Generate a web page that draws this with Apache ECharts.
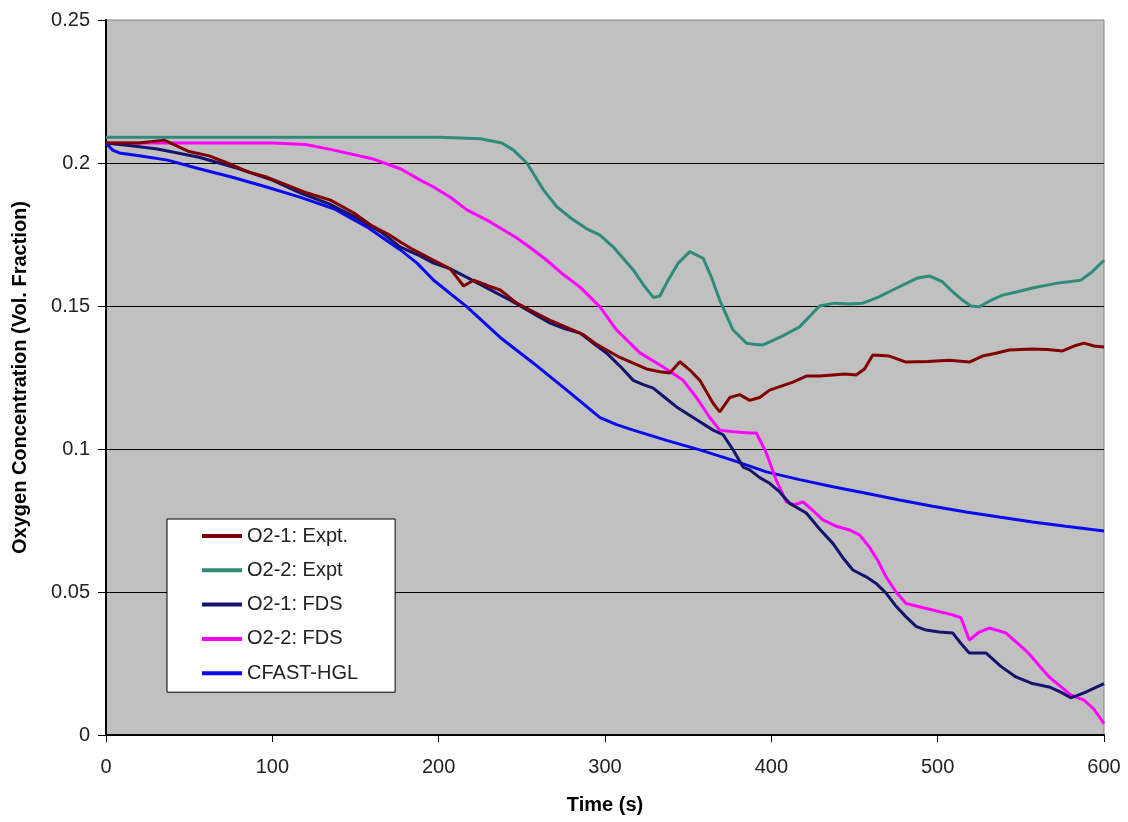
<!DOCTYPE html>
<html>
<head>
<meta charset="utf-8">
<script src="https://cdn.jsdelivr.net/npm/echarts@6/dist/echarts.min.js"></script>
<style>
html,body{margin:0;padding:0;background:#fff;}
#chart{width:1128px;height:822px;}
</style>
</head>
<body>
<div id="chart"></div>
<script>
// ---- Data ----
const seriesNames = ["O2-1: Expt.", "O2-2: Expt", "O2-1: FDS", "O2-2: FDS", "CFAST-HGL"];

const o21ExptT = [0,20,35,50,62,73,85,97,110,121,135,149,160,170,177,185,197,207,215,221,230,237,247,257,267,277,287,294,301,309,317,325,333,339,345,351,357,365,369,375,381,387,393,399,406,413,421,429,437,444,451,456,461,471,481,494,507,519,527,535,543,557,566,575,582,588,594,600];
const o21ExptV = [0.207,0.207,0.208,0.204,0.2025,0.200,0.197,0.195,0.192,0.1895,0.187,0.1825,0.178,0.175,0.1724,0.1696,0.166,0.163,0.157,0.159,0.157,0.1556,0.151,0.148,0.145,0.1425,0.140,0.137,0.1346,0.132,0.130,0.128,0.127,0.1266,0.1305,0.1276,0.124,0.116,0.113,0.118,0.119,0.117,0.118,0.1206,0.122,0.1234,0.1255,0.1255,0.1259,0.1262,0.1259,0.128,0.1329,0.1325,0.1304,0.1306,0.131,0.1304,0.1325,0.1335,0.1346,0.135,0.1348,0.1343,0.136,0.137,0.136,0.1357];

const o22ExptT = [0,200,225,238,245,253,263,271,280,289,297,305,317,323,329,333,337,344,351,359,364,369,377,385,391,395,405,417,429,438,447,455,464,473,488,495,503,509,515,520,525,532,539,548,557,572,586,593,600];
const o22ExptV = [0.209,0.209,0.2085,0.207,0.2045,0.200,0.1906,0.1847,0.1805,0.177,0.1748,0.1706,0.1626,0.1575,0.153,0.1535,0.158,0.165,0.169,0.1667,0.160,0.152,0.1416,0.137,0.1365,0.1364,0.139,0.1427,0.150,0.151,0.1507,0.151,0.153,0.1556,0.1598,0.1605,0.1584,0.155,0.152,0.150,0.1497,0.152,0.1538,0.155,0.1563,0.158,0.159,0.162,0.166];

const o21FdsT = [0,15,30,56,80,100,117,135,150,165,177,187,197,207,217,230,243,255,267,276,285,293,301,309,317,323,329,336,343,353,365,371,377,383,387,393,399,405,411,421,429,437,443,449,457,463,469,475,481,487,493,501,509,514,519,529,538,547,557,567,574,580,588,600];
const o21FdsV = [0.207,0.206,0.205,0.202,0.198,0.194,0.1895,0.1855,0.181,0.176,0.1706,0.168,0.165,0.163,0.160,0.156,0.152,0.148,0.144,0.142,0.1405,0.137,0.1335,0.129,0.124,0.1225,0.1213,0.118,0.1147,0.111,0.1066,0.105,0.0997,0.0937,0.0927,0.090,0.088,0.085,0.081,0.0776,0.072,0.067,0.062,0.0577,0.0553,0.053,0.0496,0.045,0.0413,0.038,0.0367,0.036,0.0357,0.032,0.0287,0.0287,0.024,0.0203,0.018,0.0168,0.015,0.013,0.0147,0.018];

const o22FdsT = [0,60,100,120,137,160,177,189,197,207,217,231,247,256,265,275,285,297,307,321,335,347,355,363,369,377,387,391,397,403,409,414,419,425,431,439,447,453,459,464,469,475,481,497,509,514,519,525,531,541,554,567,580,588,594,600];
const o22FdsV = [0.207,0.207,0.207,0.2065,0.2045,0.2015,0.198,0.194,0.1916,0.188,0.1836,0.1794,0.1738,0.170,0.166,0.161,0.1566,0.1497,0.1416,0.1336,0.1287,0.124,0.118,0.111,0.1066,0.106,0.1056,0.1056,0.0986,0.089,0.0815,0.0805,0.0815,0.0785,0.0752,0.073,0.0717,0.070,0.0657,0.061,0.0553,0.050,0.046,0.0437,0.042,0.041,0.0332,0.036,0.0374,0.0357,0.029,0.0203,0.014,0.0122,0.009,0.004];

const cfastT = [0,4,8,20,37,56,76,97,117,137,157,177,187,197,217,237,257,277,297,307,317,337,357,377,397,417,437,457,477,497,517,537,557,577,600];
const cfastV = [0.207,0.2045,0.2035,0.2025,0.201,0.198,0.195,0.1915,0.188,0.184,0.1776,0.1696,0.165,0.159,0.1497,0.139,0.130,0.1206,0.111,0.1085,0.1066,0.103,0.0997,0.096,0.092,0.0893,0.0868,0.0845,0.0822,0.080,0.078,0.0762,0.0745,0.073,0.0713];

const xTicks = [0,100,200,300,400,500,600];
const yTicks = [0,0.05,0.1,0.15,0.2,0.25];

// ---- Build ----
function pairs(t, v){ return t.map((x,i)=>[x, v[i]]); }
const seriesData = [
  pairs(o21ExptT, o21ExptV),
  pairs(o22ExptT, o22ExptV),
  pairs(o21FdsT, o21FdsV),
  pairs(o22FdsT, o22FdsV),
  pairs(cfastT, cfastV)
];
const colors = ["#800000", "#2E8B7A", "#14146E", "#FF00FF", "#0A0AF0"];
const widths = [3, 3, 3, 3, 3];

const font = "Arial, 'Liberation Sans', sans-serif";
const chart = echarts.init(document.getElementById('chart'), null, {renderer:'canvas'});
chart.setOption({
  animation: false,
  backgroundColor: '#ffffff',
  color: colors,
  grid: {
    left: 106, right: 24, top: 20, bottom: 87,
    show: true, backgroundColor: '#C0C0C0', borderColor: '#808080', borderWidth: 1
  },
  legend: {
    left: 167, top: 519,
    orient: 'vertical',
    backgroundColor: '#ffffff',
    borderColor: '#000000', borderWidth: 1,
    padding: [7, 37, 9, 35],
    icon: 'rect',
    itemWidth: 40, itemHeight: 4, itemGap: 14.3,
    textStyle: {fontFamily: font, fontSize: 20, color: '#222'},
    data: seriesNames
  },
  xAxis: {
    type: 'value', min: 0, max: 600, interval: 100,
    name: 'Time (s)', nameLocation: 'middle', nameGap: 60,
    nameTextStyle: {fontFamily: font, fontSize: 20, fontWeight: 'bold', color: '#000'},
    axisLine: {show: true, onZero: false, lineStyle: {color: '#000', width: 2}},
    axisTick: {show: true, inside: false, length: 7, lineStyle: {color: '#000', width: 1}},
    axisLabel: {fontFamily: font, fontSize: 20, color: '#222', margin: 22,
      formatter: v => xTicks.includes(v) ? String(v) : ''},
    splitLine: {show: false}
  },
  yAxis: {
    type: 'value', min: 0, max: 0.25, interval: 0.05,
    name: 'Oxygen Concentration (Vol. Fraction)', nameLocation: 'middle', nameGap: 76,
    nameTextStyle: {fontFamily: font, fontSize: 20, fontWeight: 'bold', color: '#000'},
    axisLine: {show: true, onZero: false, lineStyle: {color: '#000', width: 2}},
    axisTick: {show: true, inside: false, length: 8, lineStyle: {color: '#000', width: 1}},
    axisLabel: {fontFamily: font, fontSize: 20, color: '#222', margin: 16,
      formatter: v => { const m = yTicks.find(t => Math.abs(t - v) < 1e-9); return m === undefined ? '' : String(m); }},
    splitLine: {show: true, showMinLine: false, showMaxLine: false, lineStyle: {color: '#000', width: 1}}
  },
  series: seriesData.map((d, i) => ({
    name: seriesNames[i],
    type: 'line',
    data: d,
    symbol: 'none',
    smooth: false,
    lineStyle: {color: colors[i], width: widths[i]},
    itemStyle: {color: colors[i]},
    z: 5 - i
  }))
});
</script>
</body>
</html>
